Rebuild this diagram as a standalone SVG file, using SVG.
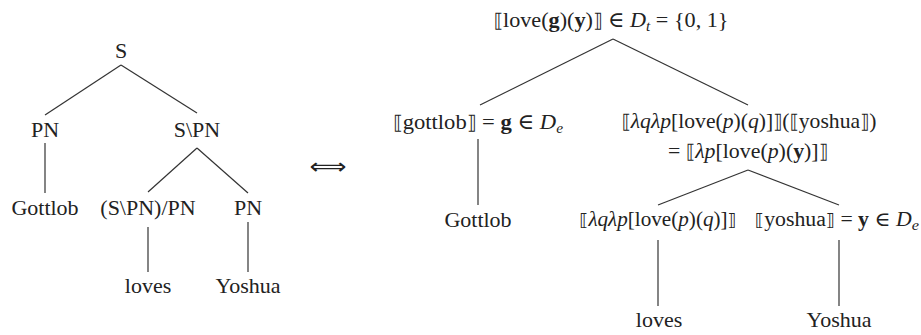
<svg xmlns="http://www.w3.org/2000/svg" width="921" height="335" viewBox="0 0 921 335">
<style>
text{font-family:"Liberation Serif","DejaVu Serif",serif;font-size:22px;fill:#222;text-anchor:middle}
.i{font-style:italic}
.b{font-weight:bold}
.s{font-size:15px;font-style:italic}
.br{font-family:"DejaVu Serif","DejaVu Sans",serif;font-size:19px}
.sm{font-size:20px}
.sm .br{font-size:17px}
line{stroke:#333;stroke-width:1.2}
</style>
<rect width="921" height="335" fill="#fff"/>
<g id="connectors">
<line x1="121" y1="65" x2="45" y2="115"/>
<line x1="121" y1="65" x2="197" y2="113"/>
<line x1="45" y1="143" x2="45" y2="193"/>
<line x1="197" y1="148" x2="148" y2="192"/>
<line x1="197" y1="148" x2="248" y2="193"/>
<line x1="148" y1="227" x2="148" y2="272"/>
<line x1="248" y1="222" x2="248" y2="272"/>
<line x1="613" y1="39" x2="480" y2="105"/>
<line x1="613" y1="39" x2="748" y2="105"/>
<line x1="478" y1="139" x2="478" y2="205"/>
<line x1="748" y1="170" x2="658" y2="205"/>
<line x1="748" y1="170" x2="839" y2="205"/>
<line x1="658" y1="240" x2="658" y2="306"/>
<line x1="839" y1="240" x2="839" y2="306"/>
</g>
<g id="n-S"><text x="121" y="58">S</text></g>
<g id="n-PN1"><text x="45" y="137">PN</text></g>
<g id="n-SPN"><text x="197" y="137">S\PN</text></g>
<g id="n-Gottlob1"><text x="45" y="215">Gottlob</text></g>
<g id="n-SPNPN"><text x="148" y="215">(S\PN)/PN</text></g>
<g id="n-PN2"><text x="248" y="215">PN</text></g>
<g id="n-loves1"><text x="148" y="293">loves</text></g>
<g id="n-Yoshua1"><text x="248" y="293">Yoshua</text></g>
<g id="n-iff"><text x="328" y="174" style="font-family:'DejaVu Sans',sans-serif;font-size:22px" textLength="37" lengthAdjust="spacingAndGlyphs">⟺</text></g>
<g id="n-top"><text x="611" y="27" textLength="235" lengthAdjust="spacingAndGlyphs"><tspan class="br">⟦</tspan>love(<tspan class="b">g</tspan>)(<tspan class="b">y</tspan>)<tspan class="br">⟧</tspan> ∈ <tspan class="i">D</tspan><tspan class="s" dy="4">t</tspan><tspan dy="-4"> = {0, 1}</tspan></text></g>
<g id="n-gottlob"><text x="478" y="129" textLength="170" lengthAdjust="spacingAndGlyphs"><tspan class="br">⟦</tspan>gottlob<tspan class="br">⟧</tspan> = <tspan class="b">g</tspan> ∈ <tspan class="i">D</tspan><tspan class="s" dy="4">e</tspan></text></g>
<g id="n-app"><text x="749" y="128" textLength="255" lengthAdjust="spacingAndGlyphs"><tspan class="br">⟦</tspan><tspan class="i">λqλp</tspan>[love(<tspan class="i">p</tspan>)(<tspan class="i">q</tspan>)]<tspan class="br">⟧</tspan>(<tspan class="br">⟦</tspan>yoshua<tspan class="br">⟧</tspan>)</text>
<text x="748" y="158" textLength="160" lengthAdjust="spacingAndGlyphs">= <tspan class="br">⟦</tspan><tspan class="i">λp</tspan>[love(<tspan class="i">p</tspan>)(<tspan class="b">y</tspan>)]<tspan class="br">⟧</tspan></text></g>
<g id="n-Gottlob2"><text x="478" y="227">Gottlob</text></g>
<g id="n-lambda"><text class="sm" x="658" y="226" textLength="157" lengthAdjust="spacingAndGlyphs"><tspan class="br">⟦</tspan><tspan class="i">λqλp</tspan>[love(<tspan class="i">p</tspan>)(<tspan class="i">q</tspan>)]<tspan class="br">⟧</tspan></text></g>
<g id="n-yoshua"><text class="sm" x="837" y="226" textLength="164" lengthAdjust="spacingAndGlyphs"><tspan class="br">⟦</tspan>yoshua<tspan class="br">⟧</tspan> = <tspan class="b">y</tspan> ∈ <tspan class="i">D</tspan><tspan class="s" dy="4">e</tspan></text></g>
<g id="n-loves2"><text x="659" y="327">loves</text></g>
<g id="n-Yoshua2"><text x="839" y="327">Yoshua</text></g>
</svg>
